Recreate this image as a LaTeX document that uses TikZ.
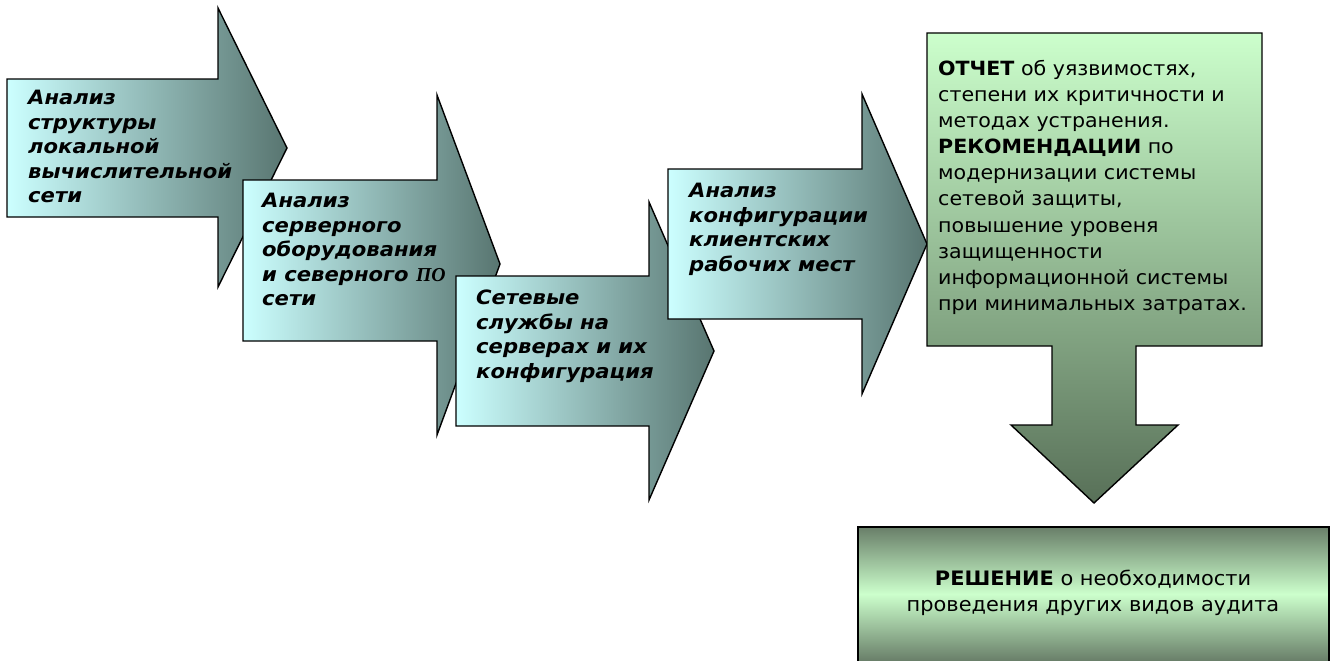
\documentclass[tikz,border=0pt]{standalone}
\usepackage{fontspec}
\setmainfont{DejaVu Sans}
\newfontfamily\stepfont{DejaVu Sans}[FakeStretch=1.07]
\newfontfamily\reportfont{DejaVu Sans}[FakeStretch=1.05]
\newfontfamily\serifpo{Liberation Serif}
\definecolor{cyanlight}{RGB}{204,255,255}
\definecolor{slatedark}{RGB}{88,117,112}
\definecolor{greenlight}{RGB}{204,255,204}
\definecolor{greendark}{RGB}{88,112,88}
\tikzset{
  arrowshape/.style={draw=black, line width=1.4pt, line join=miter, left color=cyanlight, right color=slatedark},
  calloutshape/.style={draw=black, line width=1.4pt, line join=miter, top color=greenlight, bottom color=greendark},
  boxfill/.style={top color=greendark!90, bottom color=greendark!90, middle color=greenlight},
  steptext/.style={inner sep=0pt, anchor=north west, align=left, font=\stepfont\fontsize{19.75}{24.5}\selectfont\bfseries\itshape},
  reporttext/.style={inner sep=0pt, anchor=north west, align=left, font=\reportfont\fontsize{19.6}{26.1}\selectfont},
  decisiontext/.style={inner sep=0pt, anchor=north, align=center, font=\reportfont\fontsize{19.9}{26}\selectfont}
}
\begin{document}
\begin{tikzpicture}[x=1pt,y=-1pt]
\useasboundingbox (0,0) rectangle (1333,661);
% arrow 1
\path[arrowshape] (7,79) -- (218,79) -- (218,8) -- (287,148) -- (218,287) -- (218,217) -- (7,217) -- cycle;
\node[steptext] (t1) at (28,90) {Анализ\\структуры\\локальной\\вычислительной\\сети};
% arrow 2
\path[arrowshape] (243,180) -- (437,180) -- (437,95) -- (500,264) -- (437,435) -- (437,341) -- (243,341) -- cycle;
\node[steptext] (t2) at (262,193) {Анализ\\серверного\\оборудования\\и северного {\serifpo ПО}\\сети};
% arrow 3
\path[arrowshape] (456,276) -- (649,276) -- (649,202) -- (714,351) -- (649,500) -- (649,426) -- (456,426) -- cycle;
\node[steptext] (t3) at (476,290) {Сетевые\\службы на\\серверах и их\\конфигурация};
% arrow 4
\path[arrowshape] (668,169) -- (862,169) -- (862,94) -- (927,244) -- (862,394) -- (862,319) -- (668,319) -- cycle;
\node[steptext] (t4) at (689,183) {Анализ\\конфигурации\\клиентских\\рабочих мест};
% report callout
\path[calloutshape] (927,33) -- (1262,33) -- (1262,346) -- (1136,346) -- (1136,425) -- (1178,425) -- (1094,503) -- (1011,425) -- (1052,425) -- (1052,346) -- (927,346) -- cycle;
\node[reporttext] (report) at (938,60) {\textbf{ОТЧЕТ} об уязвимостях,\\степени их критичности и\\методах устранения.\\\textbf{РЕКОМЕНДАЦИИ} по\\модернизации системы\\сетевой защиты,\\повышение уровеня\\защищенности\\информационной системы\\при минимальных затратах.};
% decision box
\fill[boxfill] (858,527) rectangle (1329,661);
\draw[line width=1.4pt, line join=miter] (858,661) -- (858,527) -- (1329,527) -- (1329,661);
\node[decisiontext] (decision) at (1093,570) {\textbf{РЕШЕНИЕ} о необходимости\\проведения других видов аудита};
\end{tikzpicture}
\end{document}
